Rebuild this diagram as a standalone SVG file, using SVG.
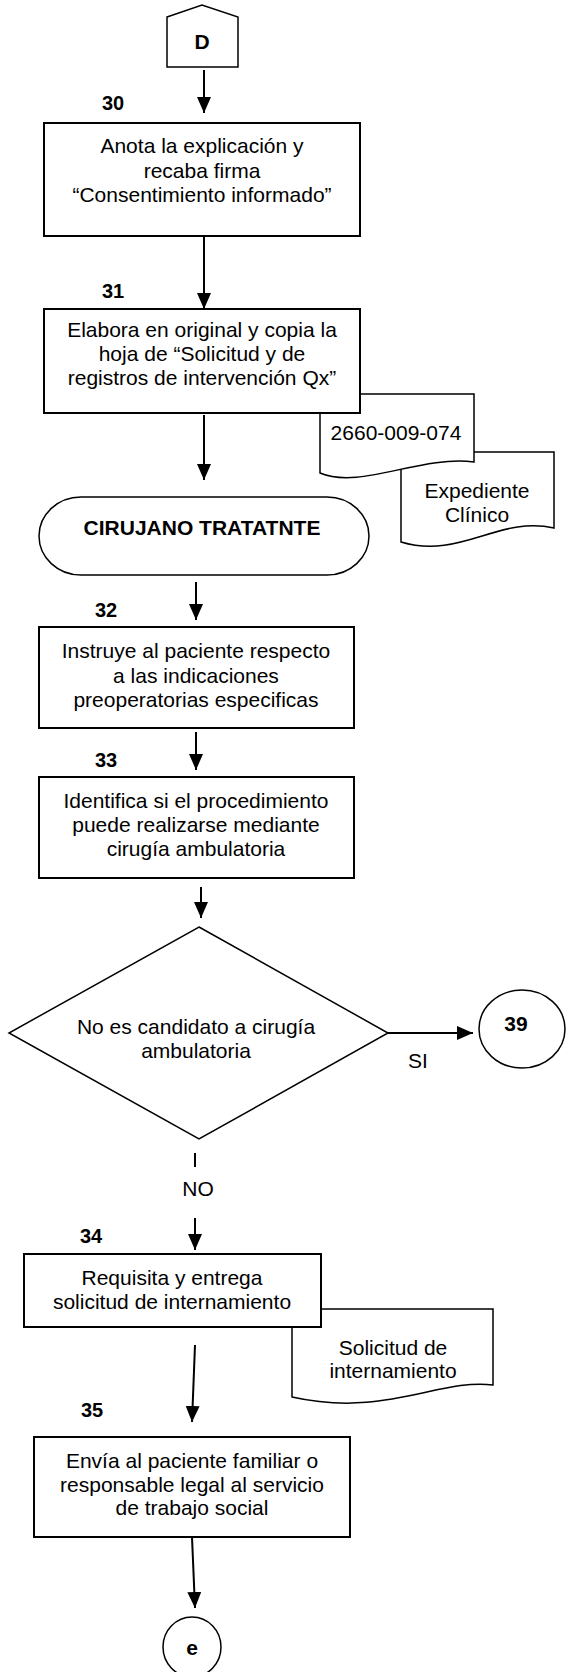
<svg xmlns="http://www.w3.org/2000/svg" width="566" height="1672" viewBox="0 0 566 1672">
<defs>
<style>
.box{fill:#fff;stroke:#000;stroke-width:2}
.shp{fill:#fff;stroke:#000;stroke-width:1.5}
.t{font-family:"Liberation Sans",Arial,sans-serif;font-size:21px;text-anchor:middle;fill:#000}
.bt{font-family:"Liberation Sans",Arial,sans-serif;font-size:21px;font-weight:bold;text-anchor:middle;fill:#000}
.n{font-family:"Liberation Sans",Arial,sans-serif;font-size:20px;font-weight:bold;fill:#000}
.c{stroke:#000;stroke-width:2;fill:none}
</style>
<marker id="ah" markerUnits="userSpaceOnUse" markerWidth="16" markerHeight="14" refX="16" refY="7" orient="auto">
<path d="M0,0 L16,7 L0,14 Z" fill="#000"/>
</marker>
</defs>
<rect width="566" height="1672" fill="#fff"/>

<g id="connectors">
<line class="c" x1="204" y1="70" x2="204" y2="113" marker-end="url(#ah)"/>
<line class="c" x1="204" y1="236" x2="204" y2="309" marker-end="url(#ah)"/>
<line class="c" x1="204" y1="415" x2="204" y2="480" marker-end="url(#ah)"/>
<line class="c" x1="196" y1="582" x2="196" y2="620" marker-end="url(#ah)"/>
<line class="c" x1="196" y1="732" x2="196" y2="770" marker-end="url(#ah)"/>
<line class="c" x1="201" y1="887" x2="201" y2="918" marker-end="url(#ah)"/>
<line class="c" x1="388" y1="1033" x2="473" y2="1033" marker-end="url(#ah)"/>
<line class="c" x1="195" y1="1153" x2="195" y2="1167"/>
<line class="c" x1="195" y1="1218" x2="195" y2="1250" marker-end="url(#ah)"/>
<line class="c" x1="195" y1="1345" x2="192" y2="1422" marker-end="url(#ah)"/>
<line class="c" x1="192" y1="1537" x2="195" y2="1608" marker-end="url(#ah)"/>
</g>

<g id="node-D">
<polygon class="shp" points="167,17 202,5 238,17 238,67 167,67"/>
<text class="bt" x="202" y="49">D</text>
</g>

<g id="node-30">
<text class="n" x="102" y="110">30</text>
<rect class="box" x="44" y="123" width="316" height="113"/>
<text class="t" x="202" y="153">Anota la explicación y</text>
<text class="t" x="202" y="178">recaba firma</text>
<text class="t" x="202" y="202">“Consentimiento informado”</text>
</g>

<g id="doc-expediente">
<path class="shp" d="M401,452 H554 V528 C500,515 460,560 401,542 Z"/>
<text class="t" x="477" y="498">Expediente</text>
<text class="t" x="477" y="522">Clínico</text>
</g>

<g id="doc-2660">
<path class="shp" d="M320,394 H474 V462 C420,455 360,490 320,473 Z"/>
<text class="t" x="396" y="440">2660-009-074</text>
</g>

<g id="node-31">
<text class="n" x="102" y="298">31</text>
<rect class="box" x="44" y="309" width="316" height="104"/>
<text class="t" x="202" y="337">Elabora en original y copia la</text>
<text class="t" x="202" y="361">hoja de “Solicitud y de</text>
<text class="t" x="202" y="385">registros de intervención Qx”</text>
</g>

<g id="terminator">
<rect class="shp" x="39" y="497" width="330" height="78" rx="42" ry="39"/>
<text class="bt" x="202" y="535">CIRUJANO TRATATNTE</text>
</g>

<g id="node-32">
<text class="n" x="95" y="617">32</text>
<rect class="box" x="39" y="627" width="315" height="101"/>
<text class="t" x="196" y="658">Instruye al paciente respecto</text>
<text class="t" x="196" y="683">a las indicaciones</text>
<text class="t" x="196" y="707">preoperatorias especificas</text>
</g>

<g id="node-33">
<text class="n" x="95" y="767">33</text>
<rect class="box" x="39" y="777" width="315" height="101"/>
<text class="t" x="196" y="808">Identifica si el procedimiento</text>
<text class="t" x="196" y="832">puede realizarse mediante</text>
<text class="t" x="196" y="856">cirugía ambulatoria</text>
</g>

<g id="decision">
<polygon class="shp" points="199,927 388,1033 199,1139 9,1033"/>
<text class="t" x="196" y="1034">No es candidato a cirugía</text>
<text class="t" x="196" y="1058">ambulatoria</text>
</g>

<g id="labels">
<text class="t" x="418" y="1068">SI</text>
<text class="t" x="198" y="1196">NO</text>
</g>

<g id="connector-39">
<ellipse class="shp" cx="522" cy="1029" rx="43" ry="39"/>
<text class="bt" x="516" y="1031">39</text>
</g>

<g id="doc-solicitud">
<path class="shp" d="M292,1309 H493 V1385 C440,1378 385,1418 292,1397 Z"/>
<text class="t" x="393" y="1355">Solicitud de</text>
<text class="t" x="393" y="1378">internamiento</text>
</g>

<g id="node-34">
<text class="n" x="80" y="1243">34</text>
<rect class="box" x="24" y="1254" width="297" height="73"/>
<text class="t" x="172" y="1285">Requisita y entrega</text>
<text class="t" x="172" y="1309">solicitud de internamiento</text>
</g>

<g id="node-35">
<text class="n" x="81" y="1417">35</text>
<rect class="box" x="34" y="1437" width="316" height="100"/>
<text class="t" x="192" y="1468">Envía al paciente familiar o</text>
<text class="t" x="192" y="1492">responsable legal al servicio</text>
<text class="t" x="192" y="1515">de trabajo social</text>
</g>

<g id="connector-e">
<ellipse class="shp" cx="192" cy="1647" rx="29" ry="30"/>
<text class="bt" x="192" y="1655">e</text>
</g>
</svg>
